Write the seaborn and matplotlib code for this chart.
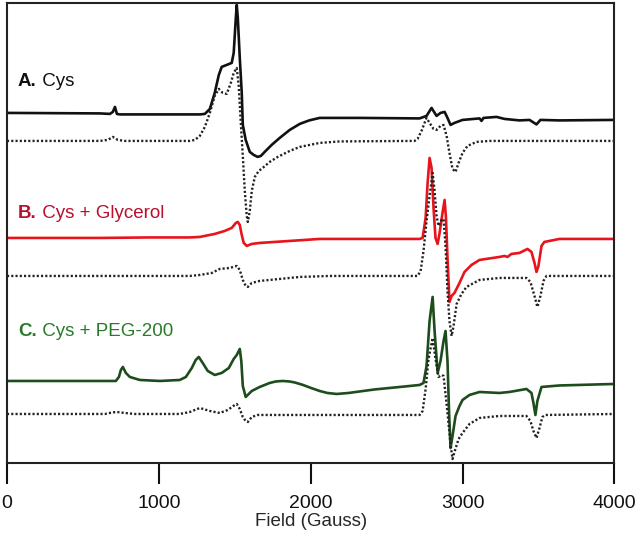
import numpy as np
import pandas as pd
import seaborn as sns
import matplotlib
matplotlib.use("Agg")
import matplotlib.pyplot as plt

# spectra: field (Gauss) and signal (arb. units, relative to baseline)
field_a = [0, 612, 678, 697, 711, 724, 743, 941, 1270, 1303, 1336, 1368, 1395, 1414, 1447, 1480,
           1493, 1507, 1513, 1520, 1533, 1546, 1553, 1572, 1599, 1625, 1651, 1672, 1697, 1743, 1796,
           1862, 1928, 1990, 2059, 2322, 2717, 2763, 2796, 2829, 2855, 2882, 2901, 2921, 2947, 3000,
           3112, 3125, 3138, 3224, 3276, 3375, 3441, 3487, 3513, 3638, 4000]
cys_a = [0, -0.5, -1, 1, 6, -1, -1.5, -1.5, -1.5, -1, 4, 20, 38, 46, 48, 50,
         60, 95, 108, 95, 55, 20, -12, -27, -39, -42, -44, -43, -39, -32, -25,
         -17, -11, -7.5, -5, -5, -5.5, -3, 5, -3, 0, 1, -5, -12, -10, -7,
         -5.5, -8, -5, -4, -6, -7.5, -7, -11.5, -7, -7.5, -7]

field_a_sim = [0, 612, 664, 697, 730, 776, 1204, 1237, 1270, 1303, 1336, 1368, 1395, 1421, 1447,
               1474, 1493, 1513, 1526, 1539, 1553, 1566, 1579, 1586, 1599, 1612, 1632, 1658, 1684,
               1730, 1783, 1862, 1928, 2059, 2191, 2684, 2704, 2730, 2750, 2763, 2783, 2809, 2829,
               2855, 2875, 2895, 2914, 2934, 2954, 2974, 3000, 3033, 3092, 3178, 4000]
cys_a_sim = [0, 0, 1, 4, 1, 0, 0, 1, 5, 14, 28, 45, 52, 48, 47,
             58, 68, 73, 55, 20, -15, -50, -75, -81, -70, -50, -36, -30, -27,
             -21, -16, -10, -6, -2, -0.5, 0, 2, 10, 18, 23, 18, 12, 11,
             15, 16, 5, -12, -28, -31, -22, -12, -5, -1, 0, 0]

field_b = [0, 612, 941, 1204, 1270, 1368, 1434, 1480, 1507, 1520, 1533, 1546, 1559, 1579, 1612,
           1664, 1862, 2059, 2717, 2737, 2757, 2770, 2783, 2796, 2809, 2822, 2836, 2849, 2868,
           2882, 2891, 2901, 2914, 2928, 2947, 2980, 3013, 3059, 3112, 3243, 3276, 3296, 3322,
           3375, 3428, 3454, 3474, 3487, 3500, 3520, 3539, 3638, 4000]
glyc_b = [0, 0, 0.5, 0.5, 1, 4, 7, 10, 15, 16, 13, 3, -5, -8, -6,
          -5, -3, -1, -1, 0, 20, 55, 80, 70, 30, 0, -6, 5, 25,
          38, 20, -20, -64, -58, -55, -45, -34, -27, -22, -19, -18, -19, -16,
          -15, -11, -14, -25, -34, -28, -8, -4, -1, -1]

field_b_sim = [0, 1204, 1270, 1349, 1401, 1467, 1513, 1533, 1553, 1572, 1586, 1612, 1664, 1796,
               1928, 2125, 2704, 2724, 2743, 2763, 2783, 2803, 2816, 2829, 2842, 2862, 2875, 2888,
               2901, 2914, 2928, 2941, 2961, 2993, 3026, 3112, 3243, 3421, 3447, 3474, 3493, 3513,
               3533, 3553, 4000]
glyc_b_sim = [0, 0, 1, 3, 7, 8, 10, 6, -4, -10, -11, -7, -5, -3,
              -1, 0, 0, 5, 25, 55, 80, 103, 85, 60, 50, 56, 57, 30,
              -15, -45, -60, -50, -28, -18, -11, -4, -2, -2, -6, -20, -31, -20,
              -5, 0, 0]

field_c = [0, 612, 717, 737, 750, 763, 783, 809, 875, 1007, 1138, 1178, 1217, 1243, 1263, 1289,
           1322, 1368, 1414, 1461, 1493, 1513, 1533, 1543, 1553, 1572, 1612, 1664, 1730, 1770,
           1816, 1860, 1895, 1950, 1993, 2059, 2110, 2171, 2250, 2322, 2420, 2520, 2620, 2717,
           2743, 2763, 2783, 2803, 2816, 2836, 2855, 2875, 2888, 2901, 2911, 2921, 2934, 2954,
           2980, 3000, 3046, 3112, 3243, 3309, 3421, 3454, 3467, 3480, 3493, 3520, 3638, 4000]
peg_c = [0, 0, 0, 4, 11, 14, 8, 4, 1, 0, 1, 4, 13, 21, 24, 18,
         10, 6, 8, 13, 22, 26, 32, 20, -5, -16, -10, -6, -2, -0.5,
         0, -0.5, -1.5, -4, -6.5, -10, -12, -13, -12, -10.5, -8.5, -7, -5.5, -4,
         -2, 15, 60, 84, 50, 8, 20, 40, 50, 20, -30, -67, -55, -35,
         -25, -19, -14, -11, -12, -11, -8, -12, -22, -34, -20, -6, -4.5, -3]

field_c_sim = [0, 645, 691, 724, 776, 842, 1138, 1204, 1270, 1336, 1401, 1454, 1500, 1513, 1533,
               1553, 1572, 1586, 1612, 1651, 2059, 2717, 2737, 2757, 2776, 2803, 2822, 2842, 2862,
               2875, 2895, 2908, 2921, 2934, 2947, 2974, 3000, 3046, 3112, 3243, 3421, 3447, 3467,
               3487, 3507, 3526, 3546, 4000]
peg_c_sim = [0, 0, 1.5, 2, 1, 0, 0, 2, 6, 3, 1, 4, 9, 10, 5,
             -3, -7, -8, -3, -1, -1, -1, 3, 25, 55, 76, 55, 37, 39,
             38, 10, -10, -30, -45, -38, -25, -19, -10, -4, -2, -2, -7, -17,
             -24, -14, -3, -1, 0]

labels = [("A.", " Cys"), ("B.", " Cys + Glycerol"), ("C.", " Cys + PEG-200")]

# vertical stacking of the traces
off_exp = [350, 225, 82]
off_sim = [322, 187, 49]
line_colors = ["#111111", "#e8141c", "#1d4d1d"]
text_colors = ["#111111", "#b8102e", "#2a7a2a"]

sns.set_style("white")
plt.rcParams["font.family"] = ["Liberation Sans", "DejaVu Sans"]

fig = plt.figure(figsize=(6.36, 5.35), dpi=100)
ax = fig.add_axes([0.011, 0.1346, 0.955, 0.86])

exp_sets = [(field_a, cys_a), (field_b, glyc_b), (field_c, peg_c)]
sim_sets = [(field_a_sim, cys_a_sim), (field_b_sim, glyc_b_sim), (field_c_sim, peg_c_sim)]

for i in range(3):
    fx, fy = exp_sets[i]
    sns.lineplot(x=fx, y=np.array(fy) + off_exp[i], ax=ax, color=line_colors[i],
                 linewidth=1.9, sort=False)
for i in range(3):
    fx, fy = sim_sets[i]
    sns.lineplot(x=fx, y=np.array(fy) + off_sim[i], ax=ax, color="#222222",
                 linewidth=1.7, linestyle=(0, (0.9, 0.9)), sort=False)

label_y = [381, 249, 131]
for i, (b, rest) in enumerate(labels):
    t = ax.text(72, label_y[i], b, fontsize=13.5, fontweight="bold",
                color=text_colors[i], va="center")
    ax.annotate(rest, xy=(1, 0), xycoords=t, va="bottom", fontsize=13.5,
                color=text_colors[i])

ax.set_xlim(0, 4000)
ax.set_ylim(0, 460)
ax.set_xticks([0, 1000, 2000, 3000, 4000])
ax.set_yticks([])
ax.tick_params(axis="x", direction="out", length=15, width=1.5, pad=8,
               labelsize=14, colors="#111111", bottom=True)
for s in ax.spines.values():
    s.set_linewidth(1.5)
    s.set_color("#222222")
ax.set_xlabel("Field (Gauss)", fontsize=13.5, labelpad=1)
ax.set_ylabel("")

fig.savefig("out.png", dpi=100)
